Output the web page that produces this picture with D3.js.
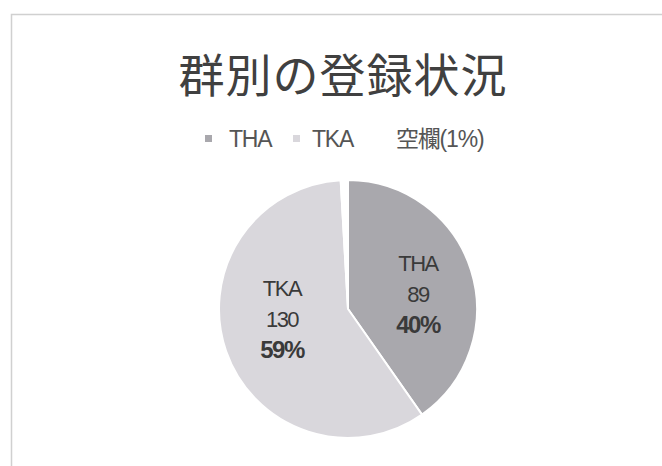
<!DOCTYPE html>
<html>

<head>
  <meta charset="utf-8">
  <script src="https://cdn.jsdelivr.net/npm/d3@7/dist/d3.min.js"></script>
  <style>
    body {
      margin: 0;
      background: #fff;
    }

    text {
      font-family: "Liberation Sans", Arial, "Noto Sans CJK JP", sans-serif;
    }
  </style>
</head>

<body>
  <script>
    const title = '群別の登録状況'
    const categories = ['THA', 'TKA', '空欄']
    const legendNames = ['THA', 'TKA', '空欄(1%)']
    const values = [89, 130, 2]
    const colors = ['#a9a8ad', '#d9d7dc', '#ffffff']

    const W = 662, H = 466
    const svg = d3.select('body').append('svg')
      .attr('width', W).attr('height', H)

    // chart frame, cut off at the right edge
    svg.append('rect')
      .attr('x', 11.5).attr('y', 14.5)
      .attr('width', 660).attr('height', 480)
      .attr('fill', 'none')
      .attr('stroke', '#d0d0d0')
      .attr('stroke-width', 1.5)

    svg.append('text')
      .attr('x', 343).attr('y', 92)
      .attr('text-anchor', 'middle')
      .attr('font-size', 46)
      .attr('letter-spacing', 1)
      .attr('fill', '#404040')
      .style('font-family', '"Noto Sans CJK JP", sans-serif')
      .text(title)

    // legend
    const markerX = [205, 293, 378]
    const legendTextX = [229, 312, 396]
    const legend = svg.append('g')
    legendNames.forEach((name, i) => {
      legend.append('rect')
        .attr('x', markerX[i]).attr('y', 135)
        .attr('width', 7).attr('height', 7)
        .attr('fill', colors[i])
      legend.append('text')
        .attr('x', legendTextX[i]).attr('y', 147)
        .attr('font-size', 23)
        .attr('letter-spacing', -1.2)
        .attr('fill', '#555')
        .text(name)
    })

    const cx = 348, cy = 309, r = 129
    const pie = d3.pie().sort(null).value(d => d)
    const arcs = pie(values)
    const arc = d3.arc().innerRadius(0).outerRadius(r)
    const total = d3.sum(values)

    const g = svg.append('g').attr('transform', `translate(${cx},${cy})`)
    g.selectAll('path')
      .data(arcs)
      .join('path')
      .attr('d', arc)
      .attr('fill', (d, i) => colors[i])
      .attr('stroke', '#fff')
      .attr('stroke-width', 2)

    // data labels for the two big slices
    const labelPos = [[418, 263], [282, 288]]
    arcs.slice(0, 2).forEach((d, i) => {
      const t = svg.append('text')
        .attr('text-anchor', 'middle')
        .attr('letter-spacing', -1.5)
        .attr('fill', '#3a3a3a')
      const lines = [categories[i], String(values[i]), Math.round(values[i] / total * 100) + '%']
      lines.forEach((s, k) => {
        t.append('tspan')
          .attr('x', labelPos[i][0])
          .attr('y', labelPos[i][1] + 8 + k * 31)
          .attr('font-size', k === 2 ? 24 : 22)
          .attr('font-weight', k === 2 ? 'bold' : 'normal')
          .text(s)
      })
    })
  </script>
</body>

</html>
